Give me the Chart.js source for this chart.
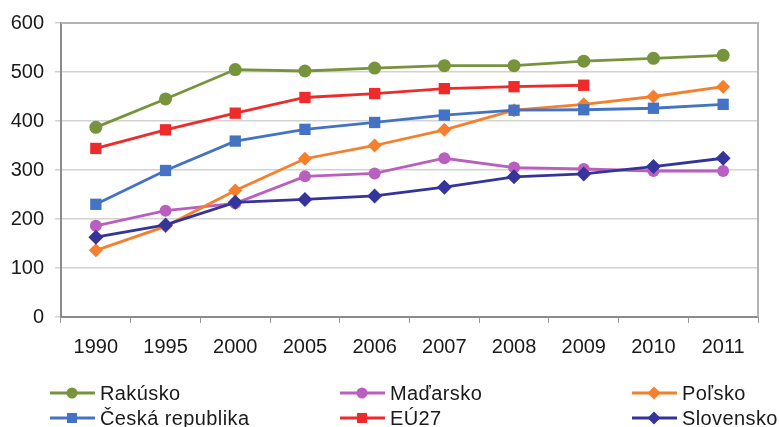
<!DOCTYPE html>
<html>
<head>
<meta charset="utf-8">
<script src="https://cdn.jsdelivr.net/npm/chart.js@4/dist/chart.umd.min.js"></script>
<style>
  html, body { margin: 0; padding: 0; background: #fff; }
  #wrap { position: relative; width: 779px; height: 427px; }
  .leg { position: absolute; display: flex; align-items: center; font: 20px "Liberation Sans", Arial, sans-serif; letter-spacing: 0.4px; color: #1a1a1a; white-space: nowrap; }
  .leg svg { margin-right: 5px; }
</style>
</head>
<body>
<div id="wrap">
  <canvas id="chart" width="779" height="427"></canvas>
</div>
<script>
// data
const years = ["1990", "1995", "2000", "2005", "2006", "2007", "2008", "2009", "2010", "2011"];
const rakusko = [387, 445, 505, 502, 508, 513, 513, 522, 528, 534];
const madarsko = [186, 217, 232, 287, 293, 324, 305, 302, 298, 298];
const polsko = [136, 185, 258, 323, 350, 382, 422, 434, 450, 470];
const ceska = [230, 299, 359, 383, 397, 412, 422, 423, 426, 434];
const eu27 = [344, 382, 416, 448, 456, 466, 470, 473, null, null];
const slovensko = [163, 188, 234, 240, 247, 265, 286, 292, 307, 324];
const yTicks = [0, 100, 200, 300, 400, 500, 600];

const FONT = '"Liberation Sans", Arial, sans-serif';

// series in legend order (row by row)
const series = [
  { label: "Rakúsko", data: rakusko, color: "#77933c", style: "circle", r: 6.5 },
  { label: "Maďarsko", data: madarsko, color: "#b85fc0", style: "circle", r: 6 },
  { label: "Poľsko", data: polsko, color: "#f57f2a", style: "rectRot", r: 7 },
  { label: "Česká republika", data: ceska, color: "#4472c4", style: "rect", r: 8 },
  { label: "EÚ27", data: eu27, color: "#ee2a2a", style: "rect", r: 8 },
  { label: "Slovensko", data: slovensko, color: "#34349a", style: "rectRot", r: 7.5 }
];

// gray box on top/right of the plot area
const plotFrame = {
  id: "plotFrame",
  beforeDatasetsDraw(chart) {
    const a = chart.chartArea, ctx = chart.ctx;
    ctx.save();
    ctx.strokeStyle = "#b4b4b4";
    ctx.lineWidth = 2;
    ctx.beginPath();
    ctx.moveTo(a.left, a.top);
    ctx.lineTo(a.right, a.top);
    ctx.lineTo(a.right, a.bottom);
    ctx.stroke();
    ctx.restore();
  }
};

new Chart(document.getElementById("chart"), {
  type: "line",
  data: {
    labels: years,
    datasets: series.map((s, i) => ({
      label: s.label,
      data: s.data,
      borderColor: s.color,
      backgroundColor: s.color,
      borderWidth: 2.8,
      pointStyle: s.style,
      pointRadius: s.r,
      pointBorderWidth: 0,
      tension: 0,
      order: series.length - i
    }))
  },
  options: {
    responsive: false,
    animation: false,
    layout: { padding: { top: 23, right: 21, bottom: 70, left: 0 } },
    plugins: { legend: { display: false }, tooltip: { enabled: false } },
    scales: {
      x: {
        offset: true,
        grid: { offset: true, drawOnChartArea: false, tickLength: 6, color: "#999" },
        border: { color: "#8c8c8c", width: 2 },
        ticks: { padding: 12, color: "#1a1a1a", font: { family: FONT, size: 20 } },
        afterFit: s => { s.height = 40; }
      },
      y: {
        min: 0,
        max: 600,
        afterBuildTicks: s => { s.ticks = yTicks.map(v => ({ value: v })); },
        grid: { color: "#d2d2d2", lineWidth: 1.5, tickLength: 6 },
        border: { color: "#8c8c8c", width: 2 },
        ticks: { padding: 11, color: "#1a1a1a", font: { family: FONT, size: 20 } },
        afterFit: s => { s.width = 61; }
      }
    }
  },
  plugins: [plotFrame]
});

// legend in three fixed columns, two rows
const colX = [50, 340, 632];
const rowY = [393, 418];
const wrap = document.getElementById("wrap");
series.forEach((s, i) => {
  const el = document.createElement("div");
  el.className = "leg";
  el.style.left = colX[i % 3] + "px";
  el.style.top = (rowY[Math.floor(i / 3)] - 12) + "px";
  let mark;
  if (s.style === "circle") mark = `<circle cx="22" cy="12" r="5.5" fill="${s.color}"/>`;
  else if (s.style === "rect") mark = `<rect x="17" y="7" width="10" height="10" fill="${s.color}"/>`;
  else mark = `<polygon points="22,5.5 28.5,12 22,18.5 15.5,12" fill="${s.color}"/>`;
  el.innerHTML = `<svg width="45" height="24"><line x1="0" y1="12" x2="45" y2="12" stroke="${s.color}" stroke-width="2.8"/>${mark}</svg><span>${s.label}</span>`;
  wrap.appendChild(el);
});
</script>
</body>
</html>
